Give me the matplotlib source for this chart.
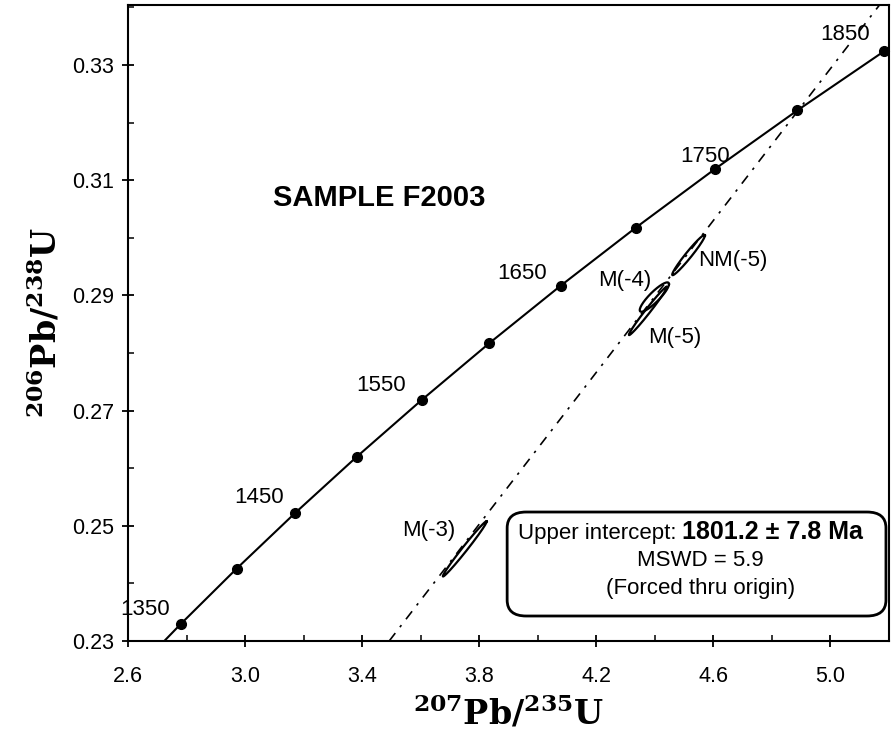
import numpy as np
import matplotlib.pyplot as plt
from matplotlib.patches import FancyBboxPatch

plt.rcParams['font.family'] = ['Liberation Sans', 'DejaVu Sans']
plt.rcParams['mathtext.fontset'] = 'custom'
plt.rcParams['mathtext.rm'] = 'DejaVu Serif'
plt.rcParams['mathtext.bf'] = 'DejaVu Serif:bold'

# concordia: ages (Ma) and their 207Pb/235U, 206Pb/238U ratios
edades = [1300, 1350, 1400, 1450, 1500, 1550, 1600, 1650, 1700, 1750, 1800, 1850]
conc_x = [2.5977, 2.7793, 2.9701, 3.1705, 3.3810, 3.6021, 3.8344, 4.0784,
          4.3348, 4.6040, 4.8869, 5.1840]
conc_y = [0.22343, 0.23296, 0.24256, 0.25224, 0.26199, 0.27181, 0.28172,
          0.29170, 0.30176, 0.31189, 0.32211, 0.33240]
edades_etiqueta = [1350, 1450, 1550, 1650, 1750, 1850]

# discordia forced through origin, upper intercept
inter_x = 4.8937
inter_y = 0.32236

# analyses: centre, half-widths and correlation of each ellipse
nombres = ['M(-3)', 'M(-4)', 'M(-5)', 'NM(-5)']
elip_x = [3.750, 4.398, 4.376, 4.515]
elip_sx = [0.075, 0.050, 0.065, 0.056]
elip_y = [0.2460, 0.2897, 0.2873, 0.2970]
elip_sy = [0.0048, 0.00255, 0.0042, 0.0035]
elip_rho = [0.990, 0.884, 0.987, 0.972]

# where the names go
nombre_x = [3.626, 4.297, 4.467, 4.666]
nombre_y = [0.2491, 0.2925, 0.2827, 0.2960]

# age label offsets in pixels from each dot
desplaza = {1350: (-36, 14), 1450: (-36, 15), 1550: (-40, 15),
            1650: (-39, 12), 1750: (-10, 13), 1850: (-39, 17)}

fig = plt.figure(figsize=(8.95, 7.45), dpi=100)
ax = fig.add_axes([0.1434, 0.1396, 0.8499, 0.8537])

ax.plot(conc_x, conc_y, '-', color='black', lw=1.5, zorder=3)
for edad, x, y in zip(edades, conc_x, conc_y):
    if edad < 1350:
        continue
    ax.plot(x, y, 'o', color='black', ms=7, zorder=4, clip_on=False)
    if edad in edades_etiqueta:
        ax.annotate(str(edad), (x, y), xytext=desplaza[edad],
                    textcoords='offset pixels', ha='center', va='center',
                    fontsize=16)

ax.axline((0, 0), (inter_x, inter_y), color='black', lw=1.2,
          dashes=(6, 4.5, 1.5, 4.5), zorder=2)

t = np.linspace(0, 2 * np.pi, 300)
for i in range(len(nombres)):
    ex = elip_x[i] + elip_sx[i] * np.cos(t)
    ey = elip_y[i] + elip_sy[i] * (elip_rho[i] * np.cos(t)
                                   + np.sqrt(1 - elip_rho[i] ** 2) * np.sin(t))
    ax.plot(ex, ey, '-', color='black', lw=1.6, zorder=3)
    ax.text(nombre_x[i], nombre_y[i], nombres[i], ha='center', va='center',
            fontsize=16)

ax.text(0.190, 0.697, 'SAMPLE F2003', transform=ax.transAxes,
        fontsize=21, fontweight='bold', va='center', ha='left')

caja = FancyBboxPatch((0.498, 0.0393), 0.498, 0.1635,
                      boxstyle='round,pad=0,rounding_size=0.025',
                      transform=ax.transAxes, facecolor='white',
                      edgecolor='black', lw=2, zorder=5)
ax.add_patch(caja)
t1 = ax.text(0.512, 0.1525, 'Upper intercept: ', transform=ax.transAxes,
             fontsize=16, va='bottom', ha='left', zorder=6)
ax.annotate('1801.2 \u00b1 7.8 Ma', xy=(1, 0), xycoords=t1, va='bottom',
            ha='left', fontsize=18, fontweight='bold', zorder=6)
ax.text(0.752, 0.1258, 'MSWD = 5.9', transform=ax.transAxes,
        fontsize=16, va='center', ha='center', zorder=6)
ax.text(0.752, 0.0818, '(Forced thru origin)', transform=ax.transAxes,
        fontsize=16, va='center', ha='center', zorder=6)

ax.set_xlim(2.6, 5.186)
ax.set_ylim(0.23, 0.3404)
ax.set_xticks(np.arange(2.6, 5.01, 0.4))
ax.set_xticks(np.arange(2.8, 5.2, 0.4), minor=True)
ax.set_yticks(np.arange(0.23, 0.331, 0.02))
ax.set_yticks(np.arange(0.24, 0.34, 0.02), minor=True)
ax.set_xticklabels(['2.6', '3.0', '3.4', '3.8', '4.2', '4.6', '5.0'])
ax.set_yticklabels(['0.23', '0.25', '0.27', '0.29', '0.31', '0.33'])
ax.tick_params(which='major', direction='inout', length=8.6, width=1.3,
               labelsize=15.5)
ax.tick_params(axis='x', which='major', pad=14)
ax.tick_params(axis='y', which='major', pad=6)
ax.tick_params(which='minor', direction='in', length=4.3, width=1.1)
for s in ax.spines.values():
    s.set_linewidth(1.5)

ax.set_xlabel(r'$\mathbf{^{207}Pb/^{235}U}$', fontsize=24, labelpad=6)
ax.set_ylabel(r'$\mathbf{^{206}Pb/^{238}U}$', fontsize=24, labelpad=6)

fig.savefig('out.png', dpi=100)
